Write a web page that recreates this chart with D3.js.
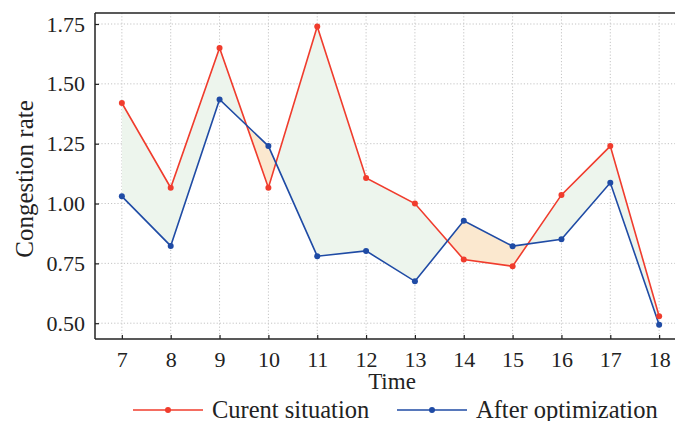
<!DOCTYPE html>
<html>
<head>
<meta charset="utf-8">
<script src="https://cdn.jsdelivr.net/npm/d3@7"></script>
<style>
  html, body { margin: 0; padding: 0; background: #fff; }
  svg { display: block; }
  svg text { font-family: "Liberation Serif", "DejaVu Serif", serif; }
</style>
</head>
<body>
<svg id="chart" width="675" height="421"></svg>
<script>
// Hourly congestion rate, before and after optimization
const hours = [7, 8, 9, 10, 11, 12, 13, 14, 15, 16, 17, 18];
const current = [1.42, 1.066, 1.65, 1.066, 1.74, 1.107, 1.0, 0.766, 0.738, 1.036, 1.24, 0.529];
const optimized = [1.03, 0.823, 1.435, 1.24, 0.78, 0.802, 0.675, 0.928, 0.822, 0.851, 1.087, 0.494];
const yTicks = [0.50, 0.75, 1.00, 1.25, 1.50, 1.75];
const seriesNames = ["Curent situation", "After optimization"];

const redColor = "#f03c2d";
const blueColor = "#1f4ba5";
const gainFill = "#edf5ed";
const lossFill = "#fbe8cf";
const serif = "'Liberation Serif', 'DejaVu Serif', serif";

const svg = d3.select("#chart");
const plotLeft = 95, plotTop = 13, plotBottom = 339, plotRight = 686;

const x = d3.scaleLinear().domain([6.45, 18.55]).range([plotLeft, plotRight]);
const y = d3.scaleLinear().domain([0.434, 1.796]).range([plotBottom, plotTop]);

const rows = hours.map((h, i) => ({ h, cur: current[i], opt: optimized[i] }));

// dotted grid
const grid = svg.append("g");
grid.selectAll("line.gx").data(hours).join("line")
  .attr("x1", d => x(d)).attr("x2", d => x(d))
  .attr("y1", plotTop).attr("y2", plotBottom)
  .attr("stroke", "#c4c4c4").attr("stroke-width", 1).attr("stroke-dasharray", "1.2,2");
grid.selectAll("line.gy").data(yTicks).join("line")
  .attr("x1", plotLeft).attr("x2", plotRight)
  .attr("y1", d => y(d)).attr("y2", d => y(d))
  .attr("stroke", "#c4c4c4").attr("stroke-width", 1).attr("stroke-dasharray", "1.2,2");

// shaded region between the two series
const defs = svg.append("defs");
const aboveOpt = d3.area().x(d => x(d.h)).y0(plotTop - 5).y1(d => y(d.opt));
const aboveCur = d3.area().x(d => x(d.h)).y0(plotTop - 5).y1(d => y(d.cur));
defs.append("clipPath").attr("id", "clipOpt").append("path").attr("d", aboveOpt(rows));
defs.append("clipPath").attr("id", "clipCur").append("path").attr("d", aboveCur(rows));

const between = d3.area().x(d => x(d.h)).y0(d => y(d.opt)).y1(d => y(d.cur));
svg.append("path").attr("d", between(rows)).attr("fill", gainFill).attr("clip-path", "url(#clipOpt)");
svg.append("path").attr("d", between(rows)).attr("fill", lossFill).attr("clip-path", "url(#clipCur)");

// lines and markers
const lineCur = d3.line().x(d => x(d.h)).y(d => y(d.cur));
const lineOpt = d3.line().x(d => x(d.h)).y(d => y(d.opt));
svg.append("path").attr("d", lineCur(rows)).attr("fill", "none").attr("stroke", redColor).attr("stroke-width", 1.6);
svg.append("path").attr("d", lineOpt(rows)).attr("fill", "none").attr("stroke", blueColor).attr("stroke-width", 1.6);
svg.append("g").selectAll("circle").data(rows).join("circle")
  .attr("cx", d => x(d.h)).attr("cy", d => y(d.cur)).attr("r", 3).attr("fill", redColor);
svg.append("g").selectAll("circle").data(rows).join("circle")
  .attr("cx", d => x(d.h)).attr("cy", d => y(d.opt)).attr("r", 3).attr("fill", blueColor);

// axes with inward ticks
const xAxis = d3.axisBottom(x).tickValues(hours).tickSize(-4).tickPadding(12).tickFormat(d3.format("d"));
const yAxis = d3.axisLeft(y).tickValues(yTicks).tickSize(-4).tickPadding(10).tickFormat(d3.format(".2f"));

const gx = svg.append("g").attr("transform", `translate(0,${plotBottom})`).call(xAxis);
const gy = svg.append("g").attr("transform", `translate(${plotLeft},0)`).call(yAxis);
[gx, gy].forEach(g => {
  g.attr("font-family", serif).attr("font-size", 22);
  g.select(".domain").remove();
  g.selectAll(".tick line").attr("stroke", "#222").attr("stroke-width", 1.2);
  g.selectAll(".tick text").attr("fill", "#222");
});

// frame
svg.append("line").attr("x1", plotLeft).attr("x2", plotRight).attr("y1", plotTop).attr("y2", plotTop)
  .attr("stroke", "#222").attr("stroke-width", 1.5);
svg.append("line").attr("x1", plotLeft).attr("x2", plotRight).attr("y1", plotBottom).attr("y2", plotBottom)
  .attr("stroke", "#222").attr("stroke-width", 1.5);
svg.append("line").attr("x1", plotLeft).attr("x2", plotLeft).attr("y1", plotTop).attr("y2", plotBottom)
  .attr("stroke", "#222").attr("stroke-width", 1.5);

// axis titles
svg.append("text").attr("x", 392).attr("y", 389).attr("text-anchor", "middle")
  .attr("fill", "#222").attr("font-size", 23).text("Time");
svg.append("text").attr("transform", `translate(33,179) rotate(-90)`)
  .attr("text-anchor", "middle").attr("fill", "#222").attr("font-size", 25).text("Congestion rate");

// legend
const legend = svg.append("g").attr("transform", "translate(0,410)");
const legendItems = [
  { name: seriesNames[0], color: redColor, x0: 133 },
  { name: seriesNames[1], color: blueColor, x0: 397 }
];
legendItems.forEach(it => {
  legend.append("line").attr("x1", it.x0).attr("x2", it.x0 + 70).attr("y1", 0).attr("y2", 0)
    .attr("stroke", it.color).attr("stroke-width", 1.6);
  legend.append("circle").attr("cx", it.x0 + 35).attr("cy", 0).attr("r", 3).attr("fill", it.color);
  legend.append("text").attr("x", it.x0 + 79).attr("y", 7.5).attr("fill", "#222")
    .attr("font-size", 24.5).text(it.name);
});
</script>
</body>
</html>
